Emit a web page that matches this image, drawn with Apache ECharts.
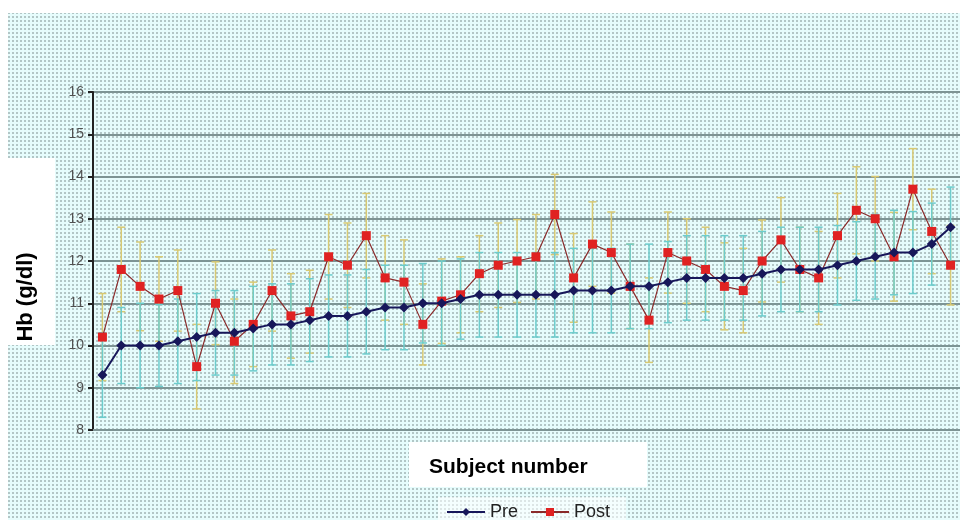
<!DOCTYPE html>
<html>
<head>
<meta charset="utf-8">
<script src="https://cdn.jsdelivr.net/npm/echarts@6/dist/echarts.min.js"></script>
<style>
html,body{margin:0;padding:0;background:#fff;}
#chart{width:960px;height:520px;}
</style>
</head>
<body>
<div id="chart"></div>
<script>
// ---- data ----
var subjects = [];
for (var i = 1; i <= 46; i++) subjects.push(String(i));
var yTicks = [8, 9, 10, 11, 12, 13, 14, 15, 16];
var pre = [9.3,10.0,10.0,10.0,10.1,10.2,10.3,10.3,10.4,10.5,10.5,10.6,10.7,10.7,10.8,10.9,10.9,11.0,11.0,11.1,11.2,11.2,11.2,11.2,11.2,11.3,11.3,11.3,11.4,11.4,11.5,11.6,11.6,11.6,11.6,11.7,11.8,11.8,11.8,11.9,12.0,12.1,12.2,12.2,12.4,12.8];
var post = [10.2,11.8,11.4,11.1,11.3,9.5,11.0,10.1,10.5,11.3,10.7,10.8,12.1,11.9,12.6,11.6,11.5,10.5,11.05,11.2,11.7,11.9,12.0,12.1,13.1,11.6,12.4,12.2,11.4,10.6,12.2,12.0,11.8,11.4,11.3,12.0,12.5,11.8,11.6,12.6,13.2,13.0,12.1,13.7,12.7,11.9];
var preSd = [1.0,0.9,1.0,0.97,1.0,1.03,1.0,1.0,1.0,0.96,0.96,0.98,0.97,0.97,1.0,1.0,1.0,0.94,1.0,0.95,1.0,1.0,1.0,1.0,1.0,1.0,1.0,1.0,1.0,1.0,0.96,1.0,1.0,1.0,1.0,1.0,1.0,1.0,1.0,0.94,0.93,1.0,1.0,0.97,0.97,0.95];
var postSd = [1.03,1.0,1.05,1.0,0.96,1.0,0.98,1.0,1.0,0.96,1.0,0.98,1.0,1.0,1.0,1.0,1.0,0.96,1.0,0.9,0.9,1.0,0.98,1.0,0.95,1.05,1.0,0.96,1.0,1.0,0.96,1.0,1.0,1.03,1.0,0.97,1.0,1.0,1.1,1.0,1.03,1.0,1.05,0.96,1.0,0.94];

function errData(vals, sds) {
  return vals.map(function (v, i) { return [i, v - sds[i], v + sds[i]]; });
}

// dotted background pattern
var pat = document.createElement('canvas');
pat.width = 4; pat.height = 4;
var pc = pat.getContext('2d');
pc.fillStyle = '#e6fcfc'; pc.fillRect(0, 0, 4, 4);
pc.fillStyle = '#b2c6c6'; pc.fillRect(0, 0, 2, 2);

function errRender(color) {
  return function (params, api) {
    var x = api.value(0);
    var lo = api.coord([x, api.value(1)]);
    var hi = api.coord([x, api.value(2)]);
    var w = 4;
    var st = { stroke: color, lineWidth: 1.5 };
    return {
      type: 'group',
      children: [
        { type: 'line', shape: { x1: lo[0], y1: lo[1], x2: hi[0], y2: hi[1] }, style: st },
        { type: 'line', shape: { x1: lo[0] - w, y1: lo[1], x2: lo[0] + w, y2: lo[1] }, style: st },
        { type: 'line', shape: { x1: hi[0] - w, y1: hi[1], x2: hi[0] + w, y2: hi[1] }, style: st }
      ]
    };
  };
}

var chart = echarts.init(document.getElementById('chart'));
var option = {
  backgroundColor: { image: pat, repeat: 'repeat' },
  animation: false,
  textStyle: { fontFamily: 'Liberation Sans, Arial, sans-serif' },
  grid: { left: 93, top: 92, width: 868, height: 338, containLabel: false },
  xAxis: {
    type: 'category',
    data: subjects,
    boundaryGap: true,
    axisLine: { show: true, lineStyle: { color: '#7d9494', width: 2 } },
    axisTick: { show: false },
    axisLabel: { show: false },
    splitLine: { show: false }
  },
  yAxis: {
    type: 'value',
    min: yTicks[0],
    max: yTicks[yTicks.length - 1],
    interval: 1,
    axisLine: { show: true, lineStyle: { color: '#222', width: 2 } },
    axisTick: { show: true, length: 5, lineStyle: { color: '#222', width: 2 } },
    axisLabel: { color: '#505050', fontSize: 14, margin: 9 },
    splitLine: { show: true, lineStyle: { color: '#7d9494', width: 2 } }
  },
  legend: {
    data: ['Pre', 'Post'],
    left: 438,
    top: 497,
    itemWidth: 38,
    itemHeight: 10,
    itemGap: 12,
    padding: [6, 16, 6, 8],
    backgroundColor: 'rgba(255,255,255,0.55)',
    textStyle: { color: '#222', fontSize: 18 }
  },
  graphic: [
    { type: 'rect', shape: { x: 0, y: 0, width: 960, height: 13 }, style: { fill: '#fff' }, silent: true },
    { type: 'rect', shape: { x: 0, y: 0, width: 8, height: 520 }, style: { fill: '#fff' }, silent: true },
    { type: 'rect', shape: { x: 8, y: 158, width: 47, height: 187 }, style: { fill: '#fff' }, silent: true },
    { type: 'text', x: 26, y: 297, rotation: Math.PI / 2,
      style: { text: 'Hb (g/dl)', fill: '#000', font: 'bold 22px "Liberation Sans", Arial, sans-serif', textAlign: 'center', textVerticalAlign: 'middle' } },
    { type: 'rect', shape: { x: 409, y: 442, width: 238, height: 45 }, style: { fill: '#fff' }, silent: true },
    { type: 'text', x: 429, y: 467,
      style: { text: 'Subject number', fill: '#000', font: 'bold 21px "Liberation Sans", Arial, sans-serif', textAlign: 'left', textVerticalAlign: 'middle' } }
  ],
  series: [
    { name: 'PostErr', type: 'custom', renderItem: errRender('#d8c972'), data: errData(post, postSd), z: 2, encode: { x: 0, y: [1, 2] }, silent: true },
    { name: 'PreErr', type: 'custom', renderItem: errRender('#6ccccc'), data: errData(pre, preSd), z: 2, encode: { x: 0, y: [1, 2] }, silent: true },
    { name: 'Post', type: 'line', data: post, z: 4,
      symbol: 'rect', symbolSize: 9,
      lineStyle: { color: '#8a2a2a', width: 1.2 },
      itemStyle: { color: '#e02222' } },
    { name: 'Pre', type: 'line', data: pre, z: 5,
      symbol: 'diamond', symbolSize: 10,
      lineStyle: { color: '#17175a', width: 2 },
      itemStyle: { color: '#17175a' } }
  ]
};
chart.setOption(option);
</script>
</body>
</html>
